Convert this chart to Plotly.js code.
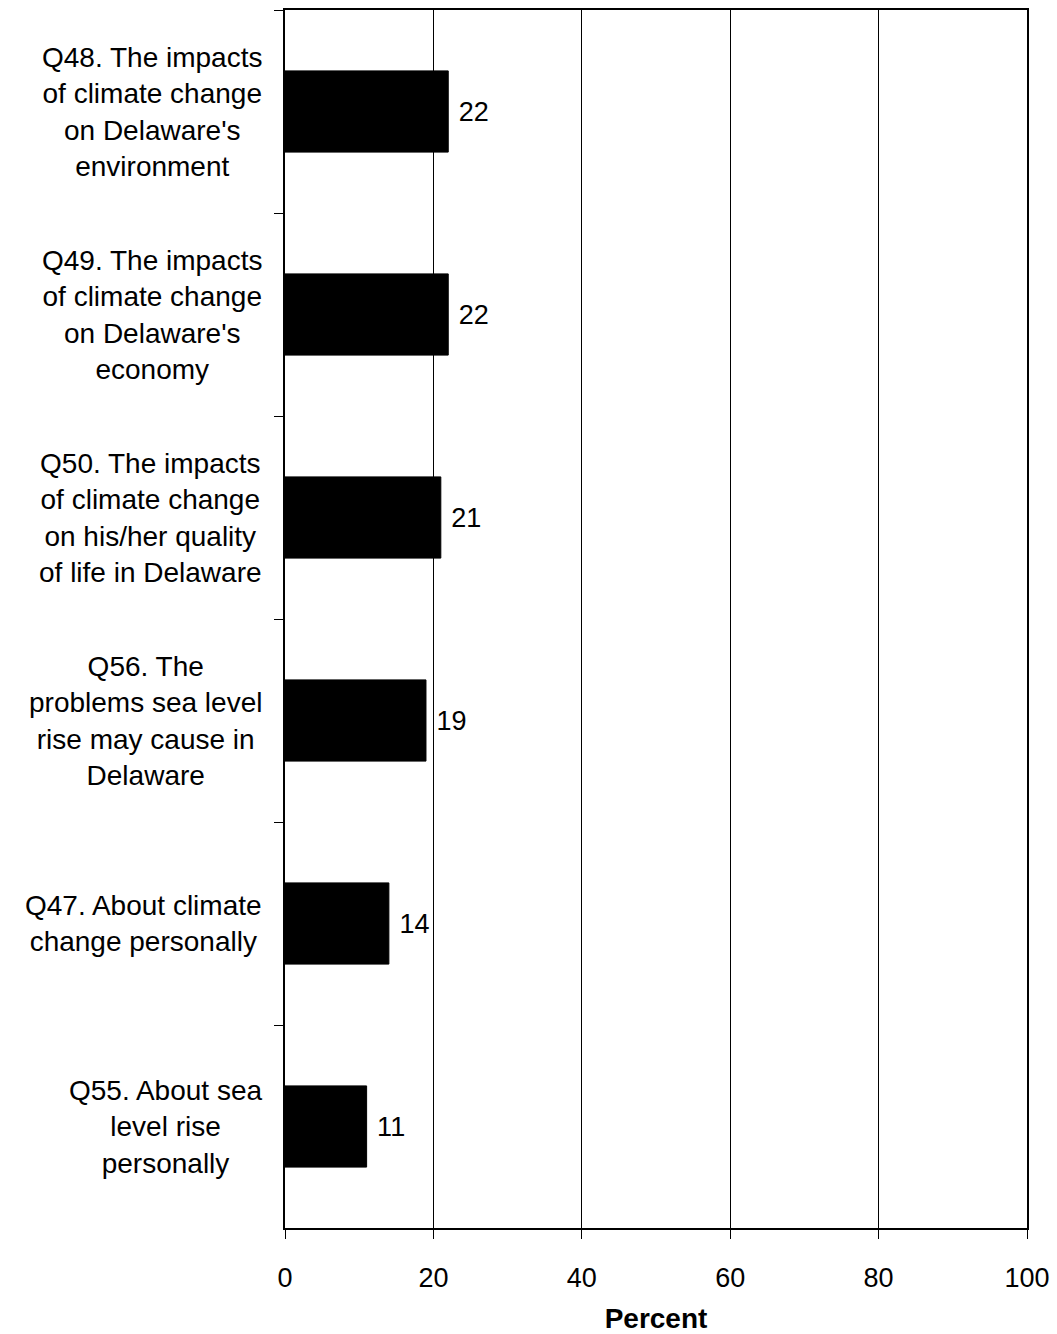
<!DOCTYPE html>
<html>
<head>
<meta charset="utf-8">
<script src="https://cdn.plot.ly/plotly-3.0.1.min.js"></script>
<style>html,body{margin:0;padding:0;background:#fff;}#chart{width:1057px;height:1334px;}</style>
</head>
<body>
<div id="chart"></div>
<script>
const categories = [
  "Q48. The impacts<br>of climate change<br>on Delaware's<br>environment",
  "Q49. The impacts<br>of climate change<br>on Delaware's<br>economy",
  "Q50. The impacts<br>of climate change<br>on his/her quality<br>of life in Delaware",
  "Q56. The<br>problems sea level<br>rise may cause in<br>Delaware",
  "Q47. About climate<br>change personally",
  "Q55. About sea<br>level rise<br>personally"
];
const percentValues = [22, 22, 21, 19, 14, 11];
const xTickValues = [0, 20, 40, 60, 80, 100];
const xAxisTitle = "Percent";

const FONT = "Liberation Sans, Arial, sans-serif";

const trace = {
  type: "bar",
  orientation: "h",
  y: categories,
  x: percentValues,
  text: percentValues.map(v => " " + v),
  textposition: "outside",
  cliponaxis: false,
  textfont: {family: FONT, size: 27, color: "#000"},
  marker: {color: "#000", line: {color: "#000", width: 1}},
  hoverinfo: "none"
};

const annotations = categories.map(c => ({
  xref: "paper", yref: "y",
  x: 0, y: c,
  xanchor: "right", yanchor: "middle",
  xshift: -21,
  align: "center",
  showarrow: false,
  text: c,
  font: {family: FONT, size: 28, color: "#000"}
}));

const layout = {
  width: 1057, height: 1334,
  margin: {l: 285, r: 30, t: 10, b: 106},
  paper_bgcolor: "#fff", plot_bgcolor: "#fff",
  showlegend: false,
  bargap: 0.6,
  font: {family: FONT, size: 26, color: "#000"},
  xaxis: {
    range: [0, 100],
    tickvals: xTickValues,
    ticktext: xTickValues.map(String),
    ticks: "outside", ticklen: 9, tickwidth: 1, tickcolor: "#000",
    ticklabelstandoff: 16,
    tickfont: {family: FONT, size: 27, color: "#000"},
    showgrid: true, gridcolor: "#000", gridwidth: 1,
    zeroline: false,
    showline: true, linecolor: "#000", linewidth: 2, mirror: true,
    title: {text: "<b>" + xAxisTitle + "</b>", font: {family: FONT, size: 28, color: "#000"}, standoff: 22}
  },
  yaxis: {
    type: "category",
    categoryorder: "array",
    categoryarray: categories,
    autorange: "reversed",
    tickson: "boundaries",
    ticks: "outside", ticklen: 9, tickwidth: 1, tickcolor: "#000",
    showticklabels: false,
    showgrid: false, zeroline: false,
    showline: true, linecolor: "#000", linewidth: 2, mirror: true
  },
  annotations: annotations
};

Plotly.newPlot("chart", [trace], layout, {displayModeBar: false, staticPlot: true});
</script>
</body>
</html>
